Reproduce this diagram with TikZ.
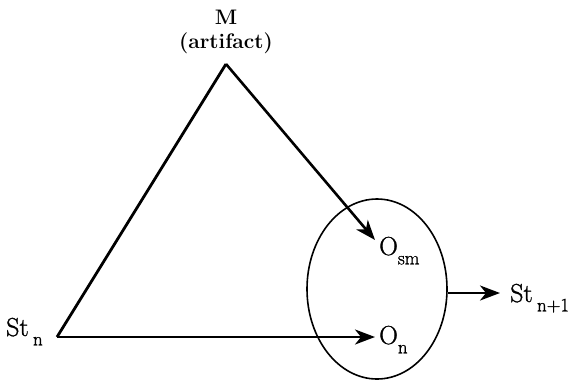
\documentclass[tikz,border=0pt]{standalone}
\usepackage{fontspec}
\setmainfont{Latin Modern Roman}
\newfontfamily\labfont{Latin Modern Roman}[FakeBold=1.2]
\usetikzlibrary{arrows.meta,shapes.geometric}
\begin{document}
\begin{tikzpicture}[x=1pt,y=-1pt,
  conn/.style={line width=2.6pt,-{Stealth[length=20pt,width=15pt,inset=6pt]}},
  edge/.style={line width=2.8pt},
  lab/.style={inner sep=0pt,font=\labfont\fontsize{26}{30}\selectfont},
  blab/.style={inner sep=0pt,font=\fontsize{21}{24}\selectfont\bfseries}]
\newcommand{\sbx}[1]{\raisebox{-0.36em}{\fontsize{19}{19}\selectfont #1}}
\useasboundingbox (0,0) rectangle (575,381);
\node[blab,anchor=base] (m) at (226,24) {M};
\node[blab,anchor=base] (art) at (226,48) {(artifact)};
\coordinate (apex) at (226,64);
\coordinate (v) at (57,337);
\node[lab,anchor=base west] (stn) at (6,336) {St\,\sbx{n}};
\node[lab,anchor=base west] (osm) at (379,255) {O\sbx{sm}};
\node[lab,anchor=base west] (on) at (379,344) {O\sbx{n}};
\node[lab,anchor=base west] (stn1) at (510,302) {St\,\sbx{n+1}};
\node[draw,line width=1.6pt,ellipse,minimum width=140pt,minimum height=180pt,inner sep=0pt] (ell) at (377,289) {};
\coordinate (tosm) at (375,240);
\coordinate (ton) at (375,337);
\coordinate (tst) at (500,293);
\draw[edge,line join=miter] (v) -- (apex);
\draw[conn] (apex) -- (tosm);
\draw[conn] (v) -- (ton);
\draw[conn] (ell.east |- tst) -- (tst);
\end{tikzpicture}
\end{document}
